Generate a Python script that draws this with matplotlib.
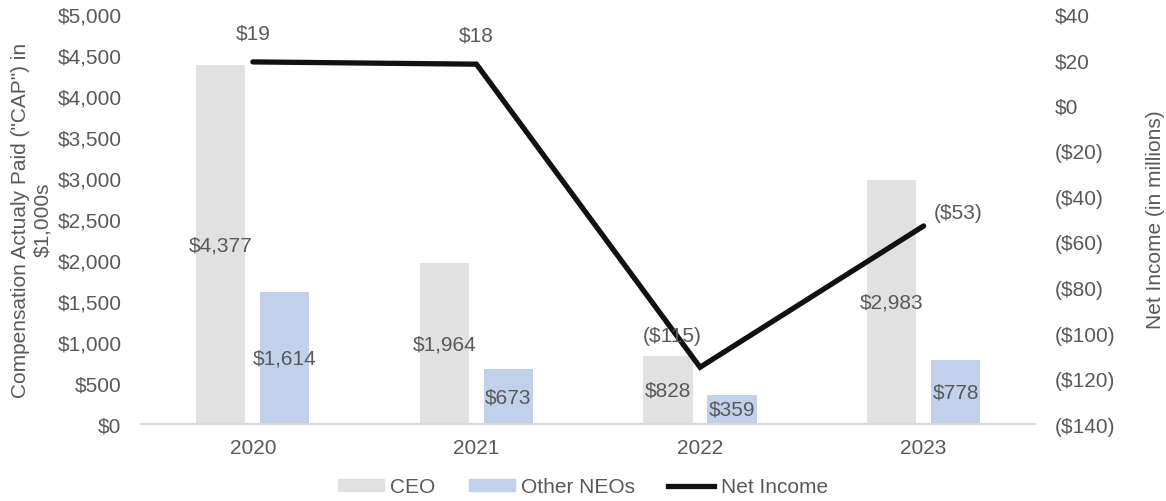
import numpy as np
import matplotlib.pyplot as plt
from matplotlib.lines import Line2D
from matplotlib.patches import Patch

plt.rcParams['font.family'] = ['Liberation Sans', 'DejaVu Sans']

years = ["2020", "2021", "2022", "2023"]
ceo_cap = [4377, 1964, 828, 2983]
neo_cap = [1614, 673, 359, 778]
net_income = [19, 18, -115, -53]

txt = "#595959"
ceo_col = "#E0E1E0"
neo_col = "#C2D1EB"
fs = 15

fig = plt.figure(figsize=(11.66, 5.02), dpi=100)
ax = fig.add_axes([0.121, 0.153, 0.767, 0.817])
ax2 = ax.twinx()

x = np.arange(len(years))
w = 0.22
off = 0.143
ax.bar(x - off, ceo_cap, w, color=ceo_col)
ax.bar(x + off, neo_cap, w, color=neo_col)
for i in range(len(years)):
    ax.text(x[i] - off, ceo_cap[i] / 2, f"${ceo_cap[i]:,}", ha="center", va="center",
            fontsize=fs, color=txt)
    ax.text(x[i] + off, neo_cap[i] / 2, f"${neo_cap[i]:,}", ha="center", va="center",
            fontsize=fs, color=txt)

ax.set_xlim(-0.5, len(years) - 0.5)
ax.set_ylim(0, 5000)
ax.set_yticks(range(0, 5001, 500))
ax.set_yticklabels([f"${v:,}" for v in range(0, 5001, 500)])
ax.set_xticks(x)
ax.set_xticklabels(years)
ax.set_ylabel('Compensation Actualy Paid ("CAP") in\n$1,000s', fontsize=fs, color=txt, labelpad=4)

ax2.plot(x, net_income, color="#111111", lw=3.8, solid_capstyle="round", solid_joinstyle="miter")
ax2.set_ylim(-140, 40)
ax2.set_yticks(range(-140, 41, 20))
ax2.set_yticklabels([f"${v}" if v >= 0 else f"(${-v})" for v in range(-140, 41, 20)])
ax2.set_ylabel("Net Income (in millions)", fontsize=fs, color=txt, labelpad=22)

def fmt(v):
    return f"${v}" if v >= 0 else f"(${-v})"

offsets = [(0, 21), (0, 21), (-20, 23), (7, 10)]
aligns = ["center", "center", "center", "left"]
for i, v in enumerate(net_income):
    ax2.annotate(fmt(v), (x[i], v), xytext=offsets[i], textcoords="offset points",
                 ha=aligns[i], va="center", fontsize=fs, color=txt)

for a in (ax, ax2):
    for s in a.spines.values():
        s.set_visible(False)
    a.tick_params(length=0, labelsize=fs, colors=txt)
ax.spines["bottom"].set_visible(True)
ax.spines["bottom"].set_color("#D9D9D9")
ax.spines["bottom"].set_linewidth(1.5)
ax.tick_params(axis="x", pad=10)
ax.tick_params(axis="y", pad=14)
ax2.tick_params(axis="y", pad=14)

handles = [Patch(color=ceo_col, label="CEO"),
           Patch(color=neo_col, label="Other NEOs"),
           Line2D([0], [0], color="#111111", lw=3.8, label="Net Income")]
fig.legend(handles=handles, loc="center", bbox_to_anchor=(0.5, 0.028), ncol=3, frameon=False,
           fontsize=fs, labelcolor=txt, handlelength=2.2, handleheight=0.5,
           columnspacing=1.6, handletextpad=0.3)

fig.savefig("out.png", dpi=100)
